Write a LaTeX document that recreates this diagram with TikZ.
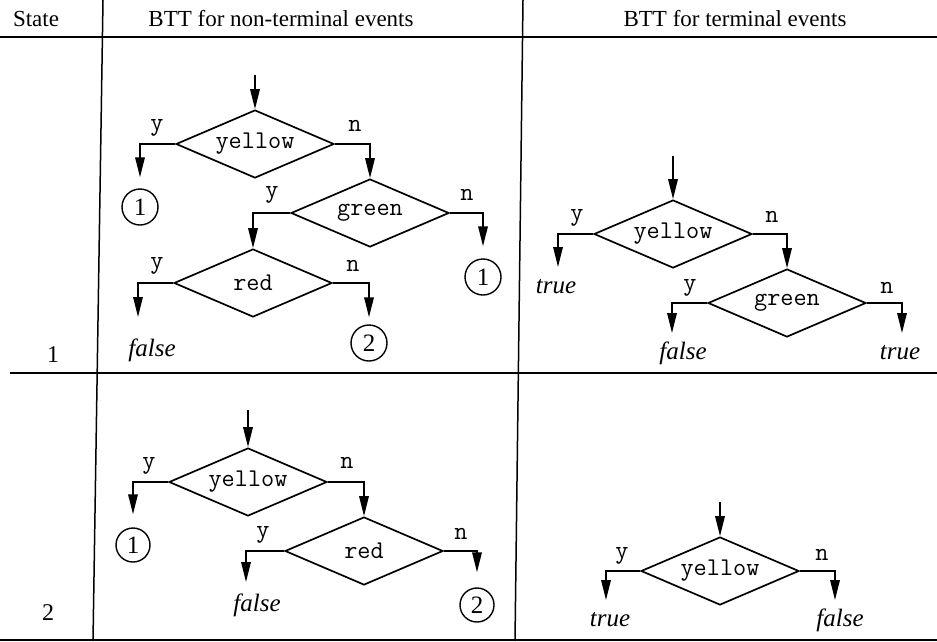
\documentclass[tikz,border=0pt]{standalone}
\usepackage{fontspec}
\setmainfont{Liberation Serif}
\usetikzlibrary{shapes.geometric,arrows.meta}
\begin{document}
\begin{tikzpicture}[x=1pt,y=-1pt,
  monof/.style={font=\ttfamily\fontsize{25.5}{28}\selectfont},
  dec/.style={diamond, draw, line width=1.7pt, minimum width=158pt, minimum height=68pt, inner sep=0pt, aspect=2.3, monof},
  arr/.style={line width=1.7pt, -{Triangle[length=20pt,width=9.5pt]}},
  lab/.style={monof, inner sep=0pt},
  res/.style={font=\itshape\fontsize{25}{28}\selectfont, inner sep=0pt},
  conn/.style={circle, draw, line width=1.4pt, minimum size=36pt, inner sep=0pt, font=\fontsize{25}{28}\selectfont},
  hdr/.style={font=\fontsize{23}{26}\selectfont, inner sep=0pt},
  rule/.style={line width=1.5pt}]
\useasboundingbox (0,0) rectangle (937,641);
\fill[white] (0,0) rectangle (937,641);
% table
\draw[line width=2.2pt] (0,37) -- (937,37);
\draw[rule] (10,373) -- (937,373);
\draw[rule] (0,640) -- (937,640);
\draw[rule] (103,0) -- (93,641);
\draw[rule] (523,0) -- (515,641);
\node[hdr] (hState) at (36,19) {State};
\node[hdr] (hNT) at (281,19) {BTT for non-terminal events};
\node[hdr] (hT) at (735,19) {BTT for terminal events};
\node[hdr, font=\fontsize{24}{26}\selectfont] (r1) at (53,355) {1};
\node[hdr, font=\fontsize{24}{26}\selectfont] (r2) at (48,613) {2};
% ---- cell 1 ----
\coordinate (s1) at (255,75);
\node[dec] (yel1) at (255,144) {yellow};
\node[lab] (yel1y) at (157,128) {y};
\node[lab] (yel1n) at (355,126) {n};
\node[conn] (c1a) at (140,207) {1};
\node[dec] (grn1) at (370,213) {green};
\node[lab] (grn1y) at (272,195) {y};
\node[lab] (grn1n) at (467,195) {n};
\node[conn] (c1b) at (483,277) {1};
\node[dec] (red1) at (253,283) {red};
\node[lab] (red1y) at (157,266) {y};
\node[lab] (red1n) at (353,266) {n};
\coordinate (t1a) at (138,317);
\node[res] (f1) at (152,350) {false};
\node[conn] (c1c) at (369,343) {2};
\draw[arr] (s1) -- (yel1.north);
\draw[arr, shorten >=11pt] (yel1.west) -| (c1a.north);
\draw[arr] (yel1.east) -| (grn1.north);
\draw[arr] (grn1.west) -| (red1.north);
\draw[arr, shorten >=12pt] (grn1.east) -| (c1b.north);
\draw[arr] (red1.west) -| (t1a);
\draw[arr, shorten >=7pt] (red1.east) -| (c1c.north);
% ---- cell 3 ----
\coordinate (s3) at (673,156);
\node[dec] (yel3) at (673,234) {yellow};
\node[lab] (yel3y) at (577,218) {y};
\node[lab] (yel3n) at (772,217) {n};
\coordinate (t3a) at (558,267);
\node[res] (tr3a) at (556,287) {true};
\node[dec] (grn3) at (787,303) {green};
\node[lab] (grn3y) at (690,288) {y};
\node[lab] (grn3n) at (887,288) {n};
\coordinate (t3b) at (672,333);
\node[res] (f3) at (683,353) {false};
\coordinate (t3c) at (902,333);
\node[res] (tr3c) at (900,353) {true};
\draw[arr] (s3) -- (yel3.north);
\draw[arr] (yel3.west) -| (t3a);
\draw[arr] (yel3.east) -| (grn3.north);
\draw[arr] (grn3.west) -| (t3b);
\draw[arr] (grn3.east) -| (t3c);
% ---- cell 2 ----
\coordinate (s2) at (248,410);
\node[dec] (yel2) at (248,482) {yellow};
\node[lab] (yel2y) at (149,466) {y};
\node[lab] (yel2n) at (347,463) {n};
\node[conn, minimum size=34pt] (c2a) at (133,545) {1};
\node[dec] (red2) at (364,551) {red};
\node[lab] (red2y) at (263,535) {y};
\node[lab] (red2n) at (461,534) {n};
\coordinate (t2a) at (246,582);
\node[res] (f2) at (257,605) {false};
\node[conn, minimum size=34pt] (c2b) at (477,605) {2};
\draw[arr] (s2) -- (yel2.north);
\draw[arr, shorten >=13pt] (yel2.west) -| (c2a.north);
\draw[arr] (yel2.east) -| (red2.north);
\draw[arr] (red2.west) -| (t2a);
\draw[arr, shorten >=15pt] (red2.east) -| (c2b.north);
% ---- cell 4 ----
\coordinate (s4) at (720,502);
\node[dec] (yel4) at (720,571) {yellow};
\node[lab] (yel4y) at (622,556) {y};
\node[lab] (yel4n) at (822,555) {n};
\coordinate (t4a) at (606,600);
\node[res] (tr4) at (610,620) {true};
\coordinate (t4b) at (835,600);
\node[res] (f4) at (840,620) {false};
\draw[arr] (s4) -- (yel4.north);
\draw[arr] (yel4.west) -| (t4a);
\draw[arr] (yel4.east) -| (t4b);
\end{tikzpicture}
\end{document}
